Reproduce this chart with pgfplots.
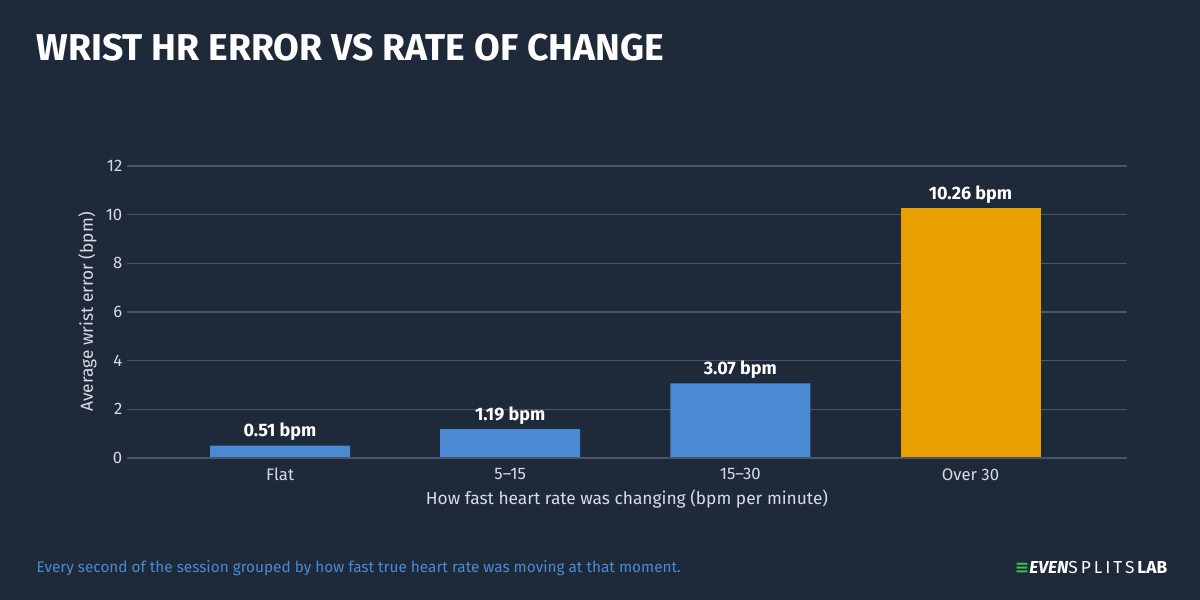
\documentclass[border=0pt]{standalone}
\usepackage{pgfplots}
\pgfplotsset{compat=1.18}
\usepackage{fontspec}
\setmainfont{Fira Sans}
\newfontfamily\titlefont{Fira Sans}
\newfontfamily\dejavu{DejaVu Sans}
\definecolor{bg}{HTML}{1E2A3A}
\definecolor{barblue}{HTML}{4A8AD4}
\definecolor{barorange}{HTML}{E8A000}
\definecolor{gridc}{HTML}{4A5668}
\definecolor{txt}{HTML}{D8DCE2}
\definecolor{note}{HTML}{4A8AD4}
\definecolor{logog}{HTML}{3CC04A}
\begin{document}
\begin{tikzpicture}
\useasboundingbox (0,0) rectangle (900pt,450pt);
\fill[bg] (0,0) rectangle (900pt,450pt);
\node[anchor=west,text=white,font=\titlefont\bfseries\fontsize{28}{30}\selectfont] at (24pt,414pt) {WRIST HR ERROR VS RATE OF CHANGE};
\begin{axis}[
  at={(95.25pt,106.5pt)}, anchor=south west,
  scale only axis, width=750pt, height=219pt,
  xmin=-0.665, xmax=3.68, ymin=0, ymax=12,
  ytick={0,2,...,12},
  xtick={0,1,2,3}, xticklabels={Flat,5--15,15--30,Over 30},
  axis line style={draw=none}, tick style={draw=none},
  ymajorgrids, grid style={gridc, line width=0.8pt},
  ticklabel style={text=txt, font=\fontsize{12.5}{14}\selectfont},
  /pgf/number format/assume math mode=true,
  ylabel={Average wrist error (bpm)},
  xlabel={How fast heart rate was changing (bpm per minute)},
  label style={text=txt, font=\fontsize{13}{15}\selectfont},
  ybar, bar width=105pt, bar shift=0pt,
  nodes near coords={\pgfmathprintnumber[fixed,precision=2,fixed zerofill]{\pgfplotspointmeta}~bpm},
  nodes near coords style={text=white, font=\bfseries\fontsize{13.5}{15}\selectfont, /pgf/number format/assume math mode=true},
  clip=false,
]
\addplot[fill=barblue, draw=none] coordinates {(0,0.51) (1,1.19) (2,3.07)};
\addplot[fill=barorange, draw=none] coordinates {(3,10.26)};
\draw[gridc, line width=0.8pt] (axis cs:-0.665,0) -- (axis cs:3.68,0);
\end{axis}
\node[anchor=west,text=note,font=\fontsize{11.5}{13}\selectfont] at (24pt,24pt) {Every second of the session grouped by how fast true heart rate was moving at that moment.};
\node[anchor=east,text=white,font=\fontsize{13}{14}\selectfont] at (879pt,24pt) {\textcolor{logog}{\dejavu\bfseries ≡}\textbf{\itshape EVEN}S\,P\,L\,I\,T\,S\,\textbf{LAB}};
\end{tikzpicture}
\end{document}
